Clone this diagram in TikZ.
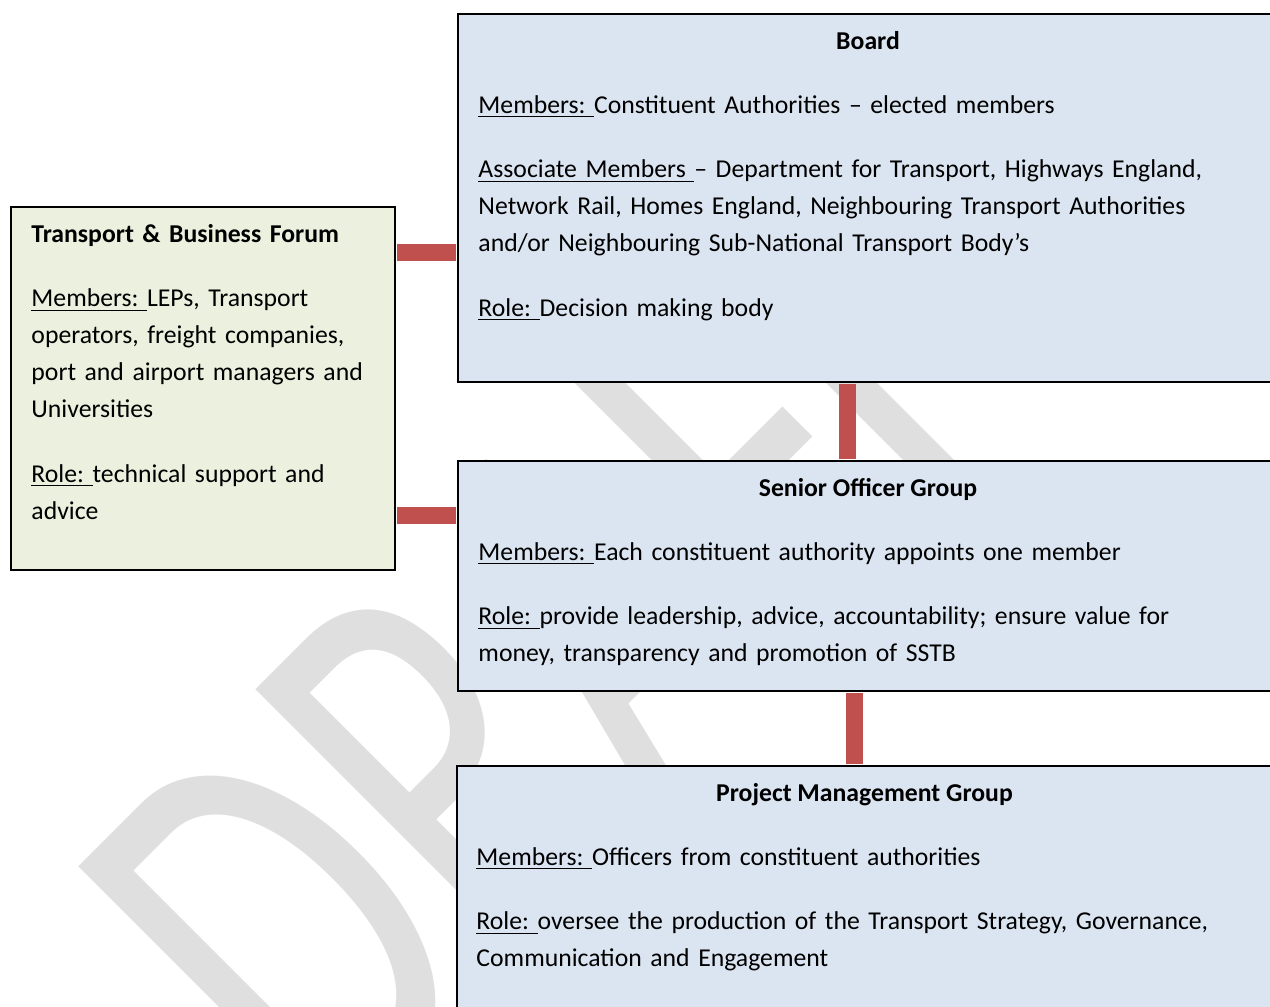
\documentclass[tikz,border=0pt]{standalone}
\usepackage{fontspec}
\setmainfont{Carlito}
\definecolor{boxblue}{HTML}{DBE5F1}
\definecolor{boxgreen}{HTML}{EBF1DE}
\definecolor{linkred}{HTML}{C0504D}
\definecolor{wmgray}{HTML}{DFDFDF}
\newlength\px
\setlength\px{0.42pt}
\tikzset{
  boxnode/.style={draw=black,line width=0.9pt,anchor=north west,inner sep=0pt},
  txtnode/.style={anchor=base west,inner sep=0pt,align=left,text width=340pt,font=\fontsize{10.8}{15.54}\selectfont},
  titlenode/.style={anchor=base,inner sep=0pt,font=\fontsize{10.8}{15.54}\selectfont\bfseries},
  link/.style={draw=linkred,line width=17\px,shorten <=0.45pt,shorten >=0.45pt},
  wmark/.style={anchor=base west,inner sep=0pt,rotate=45,yscale=1.45,text=wmgray,font=\fontsize{170}{170}\selectfont}
}
\newcommand{\gap}{\\[11.55pt]}
\begin{document}
\begin{tikzpicture}[x=0.42pt,y=-0.42pt]
    \useasboundingbox (0,0) rectangle (1270,1006);
    \clip (0,0) rectangle (1270,1006);
    \node[wmark] (draft) at (325,1153) {DRA\kern-4pt F\kern-26pt T};
    \node[boxnode,fill=boxblue,minimum width=822\px,minimum height=368\px] (board) at (457,13) {};
    \node[boxnode,fill=boxblue,minimum width=822\px,minimum height=230\px] (sog) at (457,460) {};
    \node[boxnode,fill=boxblue,minimum width=816\px,minimum height=280\px] (pmg) at (456,765) {};
    \node[boxnode,fill=boxgreen,minimum width=384\px,minimum height=363\px] (tbf) at (10,206) {};
    \draw[link] (tbf.east |- 0,252) -- (board.west |- 0,252);
    \draw[link] (tbf.east |- 0,515) -- (sog.west |- 0,515);
    \draw[link] (board.south -| 847.5,0) -- (sog.north -| 847.5,0);
    \draw[link] (sog.south -| 854.5,0) -- (pmg.north -| 854.5,0);
    \node[titlenode] (boardtitle) at (868,49) {Board};
    \node[txtnode] (boardtxt) at (478,113) {\underline{Members:\ }Constituent Authorities -- elected members\gap
        \underline{Associate Members\ }-- Department for Transport, Highways England,\\
        Network Rail, Homes England, Neighbouring Transport Authorities\\
        and/or Neighbouring Sub-National Transport Body’s\gap
        \underline{Role:\ }Decision making body};
    \node[titlenode] (sogtitle) at (868,496) {Senior Officer Group};
    \node[txtnode] (sogtxt) at (478,560) {\underline{Members:\ }Each constituent authority appoints one member\gap
        \underline{Role:\ }provide leadership, advice, accountability; ensure value for\\
        money, transparency and promotion of SSTB};
    \node[titlenode] (pmgtitle) at (864.5,801) {Project Management Group};
    \node[txtnode] (pmgtxt) at (476,865) {\underline{Members:\ }Officers from constituent authorities\gap
        \underline{Role:\ }oversee the production of the Transport Strategy, Governance,\\
        Communication and Engagement};
    \node[txtnode] (tbftxt) at (31,242) {\textbf{Transport \& Business Forum}\gap
        \underline{Members:\ }LEPs, Transport\\
        operators, freight companies,\\
        port and airport managers and\\
        Universities\gap
        \underline{Role:\ }technical support and\\
        advice};
\end{tikzpicture}
\end{document}
